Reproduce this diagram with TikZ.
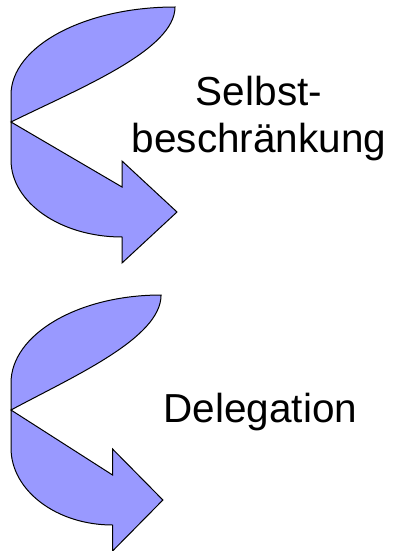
\documentclass[tikz,border=0pt]{standalone}
\usepackage{fontspec}
\setmainfont{Liberation Sans}
\definecolor{arrowfill}{HTML}{9999FF}
\tikzset{
  arrowshape/.style={draw=black, line width=1pt, fill=arrowfill, line join=miter},
  label/.style={font=\fontsize{40.5}{47}\selectfont, align=center, inner sep=0pt, text=black},
  curvedarr/.pic={
    \path[arrowshape] (0,0) .. controls (69,-34) and (164,-72) .. (164,-115)
      .. controls (73.4,-115) and (0,-75.6) .. (0,-27)
      -- (0,38)
      .. controls (0,80.5) and (49.7,115) .. (111,115)
      -- (111,141) -- (166,90) -- (111,39) -- (111,65) -- cycle;
  }
}
\begin{document}
\begin{tikzpicture}[x=1pt,y=-1pt]
\useasboundingbox (0,0) rectangle (397,551);
\pic (a1) at (11,122) {curvedarr};
\pic[xscale=0.915] (a2) at (11,410) {curvedarr};
\node[label, anchor=base] (t1) at (259,152) {Selbst-\\beschränkung};
\node[label, anchor=base] (t2) at (260.5,422) {Delegation};
\end{tikzpicture}
\end{document}
